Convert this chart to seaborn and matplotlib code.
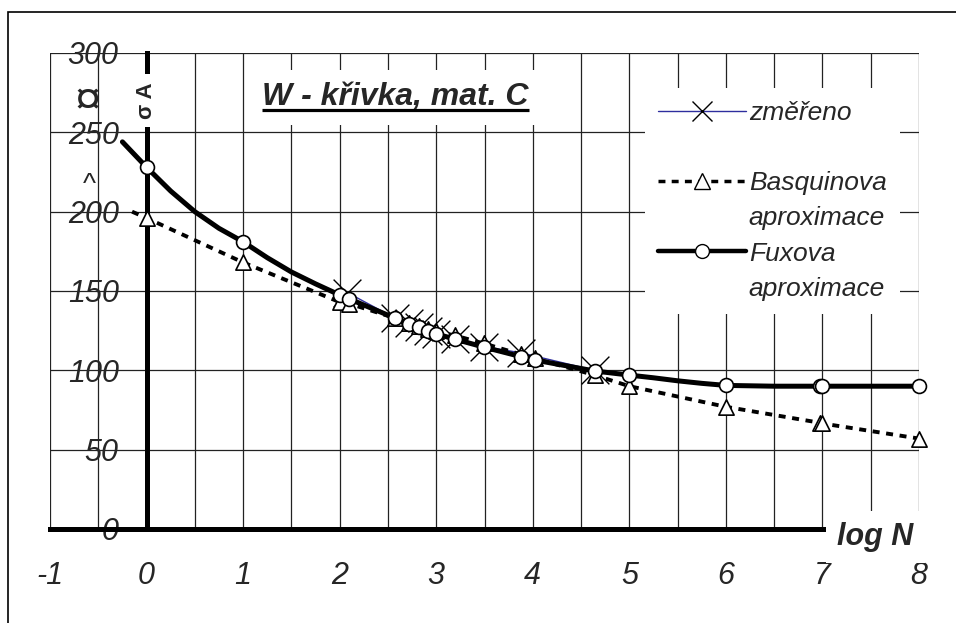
import numpy as np
import pandas as pd
import matplotlib
matplotlib.use('Agg')
import matplotlib.pyplot as plt
from matplotlib.lines import Line2D
from matplotlib.patches import Rectangle
import seaborn as sns

# measured points (zmereno)
meas_logN = [2.08, 2.57, 2.72, 2.82, 2.92, 3.00, 3.19, 3.49, 3.88, 4.64]
meas_sigma = [149, 133, 130, 127, 125, 123, 120, 115, 111, 100]

# points marked on both approximations
approx_logN = [0, 1, 2.0, 2.1, 2.57, 2.72, 2.82, 2.92, 3.0, 3.19, 3.49, 3.88, 4.02, 4.64, 5, 6, 6.97, 7, 8]
fux_sigma = [228, 181, 147.5, 145, 133, 129, 127, 124.5, 123, 119.7, 114.7, 108.6, 106.5, 99.6, 97, 90.5, 90, 90, 90]
basq_sigma = [196, 168, 143, 142, 133, 130, 128, 126, 124.5, 122, 117, 110, 107.5, 97, 90, 77, 67, 66.5, 57]

# the curves themselves (start a bit left of the y axis)
fux_line_logN = [-0.25, 0, 0.25, 0.5, 0.75, 1, 1.25, 1.5, 1.75, 2.0, 2.1, 2.57, 2.72, 2.82, 2.92, 3.0,
                 3.19, 3.49, 3.88, 4.02, 4.64, 5, 5.25, 5.5, 5.75, 6, 6.5, 7, 8]
fux_line_sigma = [244, 228, 213, 200, 189.5, 181, 171, 162, 154.5, 147.5, 145, 133, 129, 127, 124.5, 123,
                  119.7, 114.7, 108.6, 106.5, 99.6, 97, 95.3, 93.4, 91.8, 90.5, 90, 90, 90]
basq_line_logN = [-0.15] + approx_logN
basq_line_sigma = [200] + basq_sigma

x_ticks = list(range(-1, 9))
x_minor = [-0.5, 0.5, 1.5, 2.5, 3.5, 4.5, 5.5, 6.5, 7.5]
y_ticks = [0, 50, 100, 150, 200, 250, 300]

sns.set_style('white')
plt.rcParams['font.family'] = ['Liberation Sans', 'DejaVu Sans']
plt.rcParams['font.style'] = 'italic'

fig = plt.figure(figsize=(9.56, 6.23), dpi=100)
ax = fig.add_axes([50 / 956, 94 / 623, 869 / 956, 476 / 623])
ax.set_xlim(-1, 8)
ax.set_ylim(0, 300)

# outer frame of the picture
fig.patches.append(Rectangle((8 / 956, -0.1), 1.2, 1.0807, transform=fig.transFigure,
                             fill=False, ec='black', lw=1.2))

# measured
sns.lineplot(x=meas_logN, y=meas_sigma, ax=ax, sort=False, estimator=None,
             color='#2e2e9e', lw=1, zorder=3)
sns.scatterplot(x=meas_logN, y=meas_sigma, ax=ax, marker='x', s=20 ** 2,
                color='black', linewidth=1, zorder=3.1)
# Basquin
sns.lineplot(x=basq_line_logN, y=basq_line_sigma, ax=ax, sort=False, estimator=None,
             color='black', lw=2.8, linestyle=(0, (1.8, 1.7)), zorder=3.5)
# Fux
sns.lineplot(x=fux_line_logN, y=fux_line_sigma, ax=ax, sort=False, estimator=None,
             color='black', lw=3.6, zorder=4)
sns.scatterplot(x=approx_logN, y=basq_sigma, ax=ax, marker='^', s=11 ** 2,
                color='white', edgecolor='black', linewidth=1.2, zorder=4.5, clip_on=False)
sns.scatterplot(x=approx_logN, y=fux_sigma, ax=ax, marker='o', s=10 ** 2,
                color='white', edgecolor='black', linewidth=1.2, zorder=5, clip_on=False)

# axes
ax.set_xticks(x_ticks)
ax.set_xticklabels([str(t) for t in x_ticks])
ax.set_xticks(x_minor, minor=True)
ax.set_yticks(y_ticks)
ax.set_yticklabels([str(t) for t in y_ticks])
ax.set_xlabel('')
ax.set_ylabel('')
ax.grid(True, axis='x', which='both', color='#222222', lw=0.9)
ax.grid(True, axis='y', which='major', color='#222222', lw=0.9)
ax.tick_params(axis='x', which='minor', length=0)
ax.tick_params(axis='both', which='major', direction='out', length=8, width=2.2,
               color='black', labelsize=22)
ax.tick_params(axis='x', which='major', pad=15)
ax.tick_params(axis='y', which='major', pad=12)

for tick, loc in zip(ax.xaxis.get_major_ticks(), ax.get_xticks()):
    if loc < 0 or loc >= 6.5:
        tick.gridline.set_color('#8c8c8c')
    if loc == 8:
        tick.tick1line.set_visible(False)
for tick, loc in zip(ax.xaxis.get_minor_ticks(), ax.xaxis.get_minorticklocs()):
    if loc < 0 or loc >= 6.5:
        tick.gridline.set_color('#8c8c8c')
for tick, loc in zip(ax.yaxis.get_major_ticks(), ax.get_yticks()):
    if loc == 300:
        tick.gridline.set_color('#8c8c8c')

for lbl in ax.get_yticklabels():
    lbl.set_bbox(dict(facecolor='white', edgecolor='none', pad=3))

ax.spines['top'].set_visible(False)
ax.spines['right'].set_visible(False)
ax.spines['left'].set_position(('data', 0))
ax.spines['bottom'].set_position(('data', 0))
for s in ['left', 'bottom']:
    ax.spines[s].set_linewidth(3.6)
    ax.spines[s].set_color('black')

# texts
title = ax.text(2.58, 267, 'W - křivka, mat. C', fontsize=23, fontweight='bold',
                ha='center', va='baseline', zorder=10,
                bbox=dict(facecolor='white', edgecolor='none', boxstyle='square,pad=0.4'))
ax.text(0, 270, 'σ A', rotation=90, fontsize=16, fontweight='bold', fontstyle='normal',
        ha='center', va='center', zorder=6,
        bbox=dict(facecolor='white', edgecolor='none', pad=6))
ax.text(-0.61, 269, '¤', fontsize=34, fontstyle='normal', ha='center', va='center', zorder=6)
ax.text(-0.59, 217, '^', fontsize=20, fontstyle='normal', ha='center', va='center', zorder=6)
ax.text(7.55, -10, 'log N', fontsize=22, fontweight='bold',
        ha='center', va='baseline', zorder=6,
        bbox=dict(facecolor='white', edgecolor='none', pad=8))

# legend
handles = [
    Line2D([], [], color='#2e2e9e', lw=1, marker='x', markersize=15,
           markeredgecolor='black', markeredgewidth=1),
    Line2D([], [], color='none'),
    Line2D([], [], color='black', lw=2.5, linestyle=(0, (2, 1.8)), marker='^',
           markersize=12, markerfacecolor='white', markeredgecolor='black'),
    Line2D([], [], color='none'),
    Line2D([], [], color='black', lw=3.2, marker='o', markersize=10,
           markerfacecolor='white', markeredgecolor='black'),
    Line2D([], [], color='none'),
]
labels = ['změřeno', ' ', 'Basquinova', 'aproximace', 'Fuxova', 'aproximace']
leg = ax.legend(handles, labels, loc='upper left', bbox_to_anchor=(0.685, 0.9265),
                borderaxespad=0, borderpad=0.5, frameon=True, fancybox=False,
                facecolor='white', edgecolor='none', framealpha=1,
                handlelength=3.3, handletextpad=0.12, labelspacing=0.42,
                prop={'size': 19, 'style': 'italic'})
leg.set_zorder(10)

# underline of the title
fig.canvas.draw()
bb = title.get_window_extent()
inv = ax.transData.inverted()
(ux0, uy0), (ux1, uy1) = inv.transform([[bb.x0, bb.y0], [bb.x1, bb.y1]])
ax.plot([ux0, ux1], [uy0 + 1.5, uy0 + 1.5], color='black', lw=2.3, zorder=11,
        solid_capstyle='butt', clip_on=False)

fig.savefig('out.png', dpi=100)
